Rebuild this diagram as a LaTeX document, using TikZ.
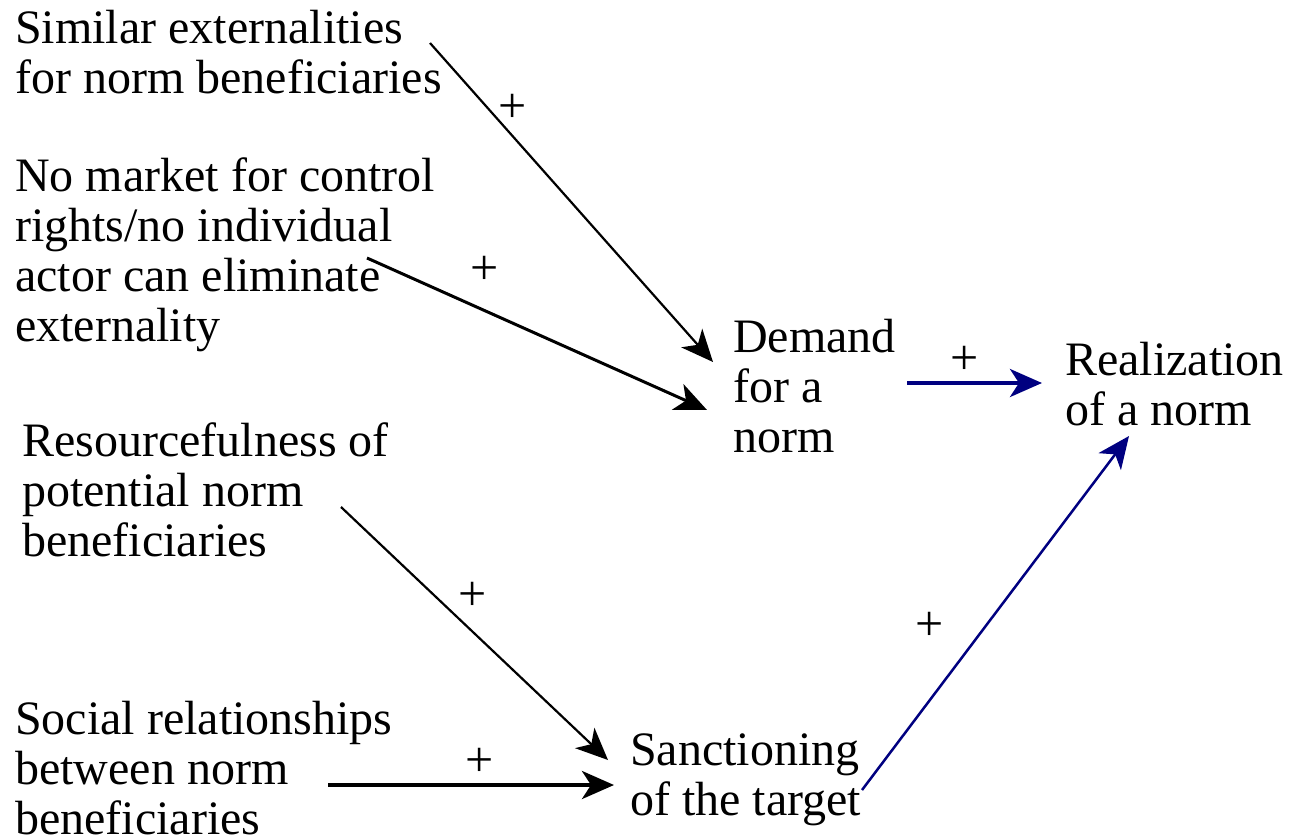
\documentclass[tikz,border=0pt]{standalone}
\usepackage{fontspec}
\setmainfont{Liberation Serif}
\usetikzlibrary{arrows.meta}
\definecolor{navy}{RGB}{0,0,128}
\begin{document}
\begin{tikzpicture}[x=1pt,y=-1pt,
  lbl/.style={anchor=base west, inner sep=0pt, align=left,
              font=\fontsize{48}{50}\selectfont},
  plus/.style={inner sep=0pt, font=\fontsize{50}{50}\selectfont},
  link/.style={-{Stealth[length=32pt,width=28pt,inset=9pt]}},
  thin link/.style={link, line width=2.2pt},
  mid link/.style={link, line width=3pt},
  thick link/.style={link, line width=4pt}]
\useasboundingbox (0,0) rectangle (1290,838);

% causes (positioned at the baseline of their last line)
\node[lbl] (ext) at (15,93) {Similar externalities\\for norm beneficiaries};
\node[lbl] (mkt) at (15,341) {No market for control\\rights/no individual\\actor can eliminate\\externality};
\node[lbl] (res) at (22,556) {Resourcefulness of\\potential norm\\beneficiaries};
\node[lbl] (soc) at (15,834) {Social relationships\\between norm\\beneficiaries};

% intermediate and final outcomes
\node[lbl] (dem) at (733,452) {Demand\\for a\\norm};
\node[lbl] (san) at (630,815) {Sanctioning\\of the target};
\node[lbl] (rea) at (1065,425) {Realization\\of a norm};

% connector ends
\coordinate (extT) at (430,43);   \coordinate (demA) at (713,362);
\coordinate (mktT) at (367,258);  \coordinate (demB) at (707,410);
\coordinate (demT) at (907,383);  \coordinate (reaA) at (1042,383);
\coordinate (resT) at (341,507);  \coordinate (sanA) at (608,760);
\coordinate (socT) at (328,785);  \coordinate (sanB) at (614,785);
\coordinate (sanT) at (862,790);  \coordinate (reaB) at (1129,436);

\draw[thin link] (extT) -- (demA);
\draw[mid link] (mktT) -- (demB);
\draw[thick link, navy] (demT) -- (reaA);
\draw[thin link] (resT) -- (sanA);
\draw[thick link] (socT) -- (sanB);
\draw[thin link, navy, line width=2.5pt] (sanT) -- (reaB);

% polarity signs
\node[plus] (p1) at (513,108) {+};
\node[plus] (p2) at (485,270) {+};
\node[plus] (p3) at (965,360) {+};
\node[plus] (p4) at (473,596) {+};
\node[plus] (p5) at (480,762) {+};
\node[plus] (p6) at (930,626) {+};
\end{tikzpicture}
\end{document}
